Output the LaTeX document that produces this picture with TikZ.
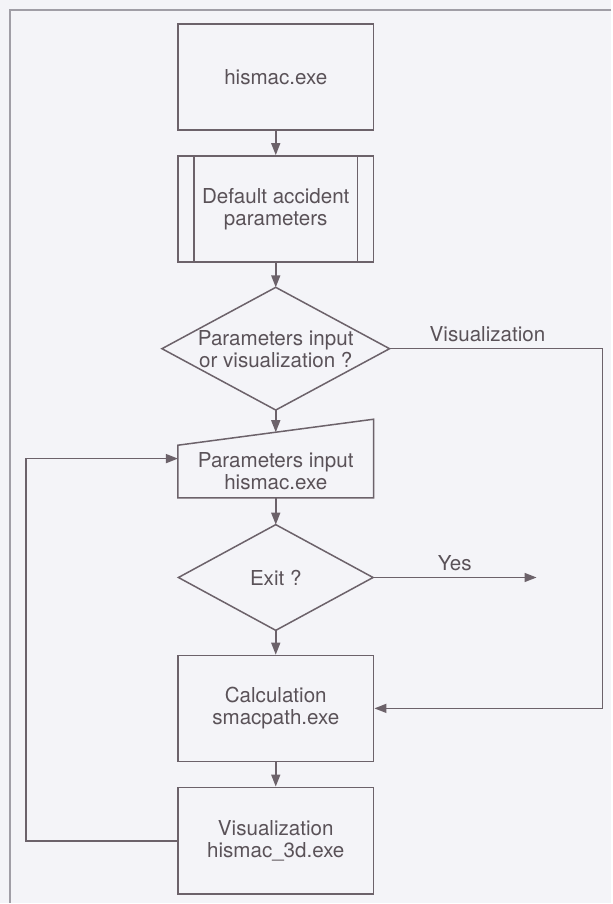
\documentclass[tikz,border=0pt]{standalone}
\usepackage{fontspec}
\setmainfont{TeX Gyre Heros}
\usetikzlibrary{arrows.meta}

\definecolor{linea}{RGB}{108,98,106}
\definecolor{letra}{RGB}{90,82,88}
\definecolor{fondo}{RGB}{244,244,248}
\definecolor{marco}{RGB}{160,158,166}

\tikzset{
    trazo/.style={draw=linea,line width=0.75pt},
    flecha/.style={trazo,-{Triangle[length=6pt,width=4.5pt]}},
    texto/.style={inner sep=0pt,align=center,text=letra,font=\fontsize{10.3}{11}\selectfont},
    caja/.style={texto,trazo,minimum width=98pt,minimum height=53pt}
}

\begin{document}
\begin{tikzpicture}[x=1pt,y=1pt]

    \def\xc{138}
    \def\sep{8.5}

    %Fondo y marco
    \fill[fondo] (0,0) rectangle (306,-452);
    \draw[marco,line width=0.8pt] (306,-5) -- (5,-5) -- (5,-452);

    %Bloques
    \node[caja] (hismac) at (\xc,-38.5) {hismac.exe};
    \node[caja] (defecto) at (\xc,-104.5) {Default accident\\parameters};
    \draw[trazo] ([xshift=\sep]defecto.north west) -- ([xshift=\sep]defecto.south west);
    \draw[trazo] ([xshift=-\sep]defecto.north east) -- ([xshift=-\sep]defecto.south east);

    \node[texto,minimum width=113.5pt,minimum height=61pt] (eleccion) at (\xc,-174.5) {Parameters input\\or visualization ?};
    \draw[trazo] (eleccion.north) -- (eleccion.east) -- (eleccion.south) -- (eleccion.west) -- cycle;

    \node[texto,minimum width=97.5pt,minimum height=26pt] (entrada) at (\xc,-236) {Parameters input\\hismac.exe};
    \draw[trazo] (entrada.north west) -- ([yshift=13pt]entrada.north east) -- (entrada.south east) -- (entrada.south west) -- cycle;

    \node[texto,minimum width=97pt,minimum height=52.5pt] (salida) at (\xc,-289) {Exit ?};
    \draw[trazo] (salida.north) -- (salida.east) -- (salida.south) -- (salida.west) -- cycle;

    \node[caja] (calculo) at (\xc,-354.5) {Calculation\\smacpath.exe};
    \node[caja,minimum height=53.5pt] (visual) at (\xc,-420.75) {Visualization\\hismac\_3d.exe};

    %Flechas
    \draw[flecha] (hismac.south) -- (defecto.north);
    \draw[flecha] (defecto.south) -- (eleccion.north);
    \draw[flecha] (eleccion.south) -- ([yshift=6.5pt]entrada.north);
    \draw[flecha] (entrada.south) -- (salida.north);
    \draw[flecha] (salida.south) -- (calculo.north);
    \draw[flecha] (calculo.south) -- (visual.north);

    %Ramas
    \coordinate (finsi) at (268.5,-289);
    \draw[flecha] (salida.east) -- node[texto,above=3pt] {Yes} (finsi);

    \coordinate (derecha) at (301.5,-174.5);
    \draw[flecha] (eleccion.east) -- node[texto,above=3pt,pos=0.46] {Visualization} (derecha) |- (calculo.east);

    \coordinate (izquierda) at (13,-420.75);
    \draw[flecha] (visual.west) -- (izquierda) |- ([yshift=6.5pt]entrada.west);

\end{tikzpicture}
\end{document}
